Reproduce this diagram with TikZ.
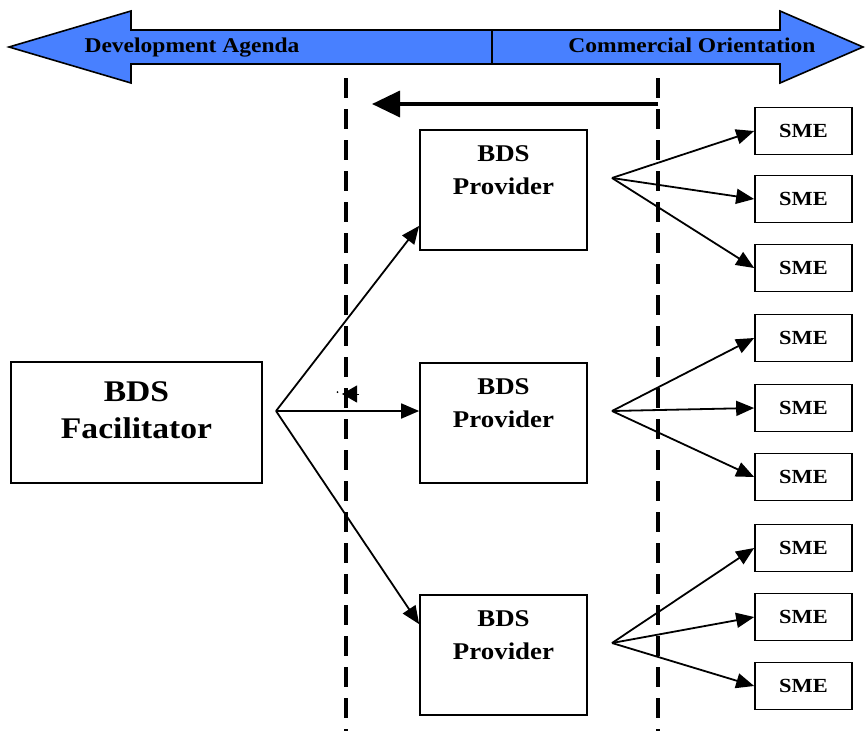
\documentclass[tikz,border=0pt]{standalone}
\usepackage{fontspec}
\setmainfont[FakeStretch=1.12]{Liberation Serif}
\usetikzlibrary{arrows.meta,calc}
\definecolor{bandblue}{RGB}{72,128,255}
\tikzset{
  band/.style={draw=black, line width=1.6pt, fill=bandblue, line join=miter},
  bandtext/.style={font=\fontsize{21}{24}\selectfont\bfseries, inner sep=0pt, anchor=base},
  dashline/.style={line width=3.6pt, dash pattern=on 20pt off 11pt},
  box/.style={draw, line width=1.7pt, inner sep=0pt},
  provbox/.style={box, minimum width=167pt, minimum height=120pt},
  facbox/.style={box, minimum width=251pt, minimum height=121pt},
  smebox/.style={box, minimum width=97pt, minimum height=47pt, font=\fontsize{20}{23}\selectfont\bfseries},
  provtext/.style={font=\fontsize{24}{33}\selectfont\bfseries, align=center, inner sep=0pt, anchor=north},
  factext/.style={font=\fontsize{30}{37}\selectfont\bfseries, align=center, inner sep=0pt, anchor=north},
  arr/.style={line width=1.8pt, -{Triangle[length=18pt,width=15pt]}},
  bigarr/.style={line width=3.6pt, -{Triangle[length=28pt,width=26pt]}}
}
\begin{document}
\begin{tikzpicture}[x=1pt,y=-1pt]
\useasboundingbox (0,0) rectangle (866,731);
% top double arrow band
\draw[band] (9,47) -- (131,11) -- (131,30) -- (780,30) -- (780,11) -- (863,47)
  -- (780,83) -- (780,64) -- (131,64) -- (131,83) -- cycle;
\draw[line width=1.6pt] (492,30) -- (492,64);
\node[bandtext] (dev) at (192,52) {Development Agenda};
\node[bandtext] (com) at (692,52) {Commercial Orientation};
% dashed lines
\coordinate (d1a) at (346,78); \coordinate (d1b) at (346,731);
\coordinate (d2a) at (658,78); \coordinate (d2b) at (658,731);
\draw[dashline] (d1a) -- (d1b);
\draw[dashline] (d2a) -- (d2b);
% big top arrow
\coordinate (ta) at (658,104); \coordinate (tb) at (372,104);
\draw[bigarr] (ta) -- (tb);
% small stray arrowhead
\coordinate (sa) at (359,394); \coordinate (sb) at (342,394);
\draw[line width=1pt, -{Triangle[length=15pt,width=17pt]}] (sa) -- (sb);
\fill (337.5,392) circle (1pt);
% boxes
\node[facbox] (fac) at (136.5,422.5) {};
\node[factext] (factx) at ($(fac.north)+(0,20)$) {BDS\\Facilitator};
\node[provbox] (p1) at (503.5,190) {};
\node[provbox] (p2) at (503.5,423) {};
\node[provbox] (p3) at (503.5,655) {};
\foreach \p in {p1,p2,p3}{
  \node[provtext] at ($(\p.north)+(0,16)$) {BDS\\Provider};
}
% SME boxes
\foreach \n/\y in {s11/131,s12/199,s13/268,s21/338,s22/408,s23/477,s31/548,s32/617,s33/686}{
  \node[smebox] (\n) at (803.5,\y) {SME};
}
% fan points
\coordinate (f0) at (276,411);
\coordinate (f1) at (612,178);
\coordinate (f2) at (612,411);
\coordinate (f3) at (612,643);
% facilitator to providers
\draw[arr] (f0) -- ($(p1.south west)+(0,-25)$);
\draw[arr] (f0) -- (f0 -| p2.west);
\draw[arr] (f0) -- ($(p3.north west)+(0,30)$);
% providers to SMEs
\draw[arr] (f1) -- (s11.west);
\draw[arr] (f1) -- (s12.west);
\draw[arr] (f1) -- (s13.west);
\draw[arr] (f2) -- (s21.west);
\draw[arr] (f2) -- (s22.west);
\draw[arr] (f2) -- (s23.west);
\draw[arr] (f3) -- (s31.west);
\draw[arr] (f3) -- (s32.west);
\draw[arr] (f3) -- (s33.west);
\end{tikzpicture}
\end{document}
